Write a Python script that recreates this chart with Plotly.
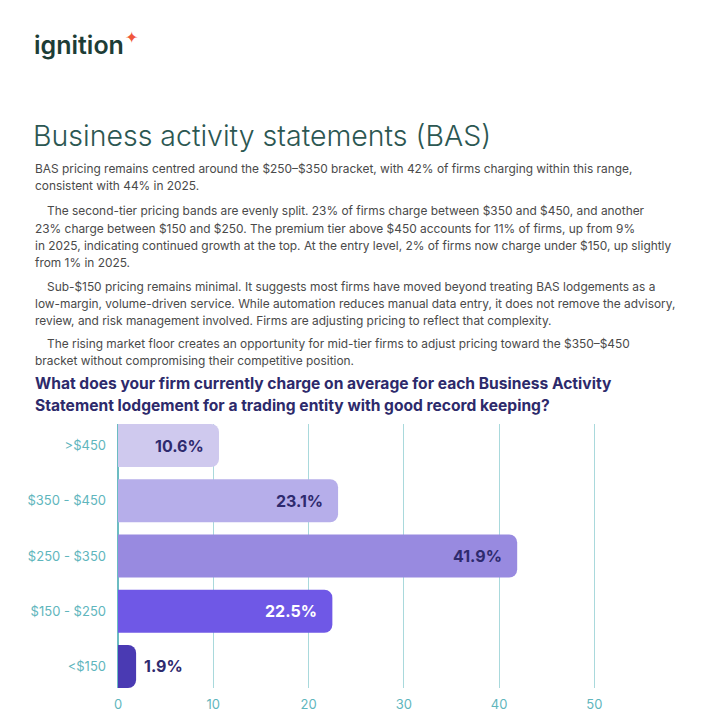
import plotly.graph_objects as go

# ---- data ----
categories = ['<$150', '$150 - $250', '$250 - $350', '$350 - $450', '>$450']
values = [1.9, 22.5, 41.9, 23.1, 10.6]
bar_colors = ['#4a3ab3', '#6f58e6', '#988ae0', '#b6aeea', '#cfc9ee']
label_colors = ['#2e2a6e', '#ffffff', '#2e2a6e', '#2e2a6e', '#2e2a6e']
x_ticks = [0, 10, 20, 30, 40, 50]

heading = "Business activity statements (BAS)"
chart_title = ["What does your firm currently charge on average for each Business Activity",
               "Statement lodgement for a trading entity with good record keeping?"]
body_lines = [
    (33, 168, "BAS pricing remains centred around the $250–$350 bracket, with 42% of firms charging within this range,"),
    (33, 186, "consistent with 44% in 2025."),
    (45, 211, "The second-tier pricing bands are evenly split. 23% of firms charge between $350 and $450, and another"),
    (33, 228, "23% charge between $150 and $250. The premium tier above $450 accounts for 11% of firms, up from 9%"),
    (33, 245, "in 2025, indicating continued growth at the top. At the entry level, 2% of firms now charge under $150, up slightly"),
    (33, 262, "from 1% in 2025."),
    (45, 286, "Sub-$150 pricing remains minimal. It suggests most firms have moved beyond treating BAS lodgements as a"),
    (33, 303, "low-margin, volume-driven service. While automation reduces manual data entry, it does not remove the advisory,"),
    (33, 320, "review, and risk management involved. Firms are adjusting pricing to reflect that complexity."),
    (45, 343, "The rising market floor creates an opportunity for mid-tier firms to adjust pricing toward the $350–$450"),
    (33, 360, "bracket without compromising their competitive position."),
]

W, H = 709, 720
ML, MR, MT, MB = 118, 67, 424, 32
PW, PH = W - ML - MR, H - MT - MB


def px(x, y):
    return (x - ML) / PW, (H - MB - y) / PH


FONT = "Inter"
TEAL = "#5fb6bd"

fig = go.Figure()
fig.add_trace(go.Bar(
    y=categories, x=values, orientation='h',
    marker=dict(color=bar_colors, line=dict(width=0)),
    width=0.78, hoverinfo='skip',
))

annotations = []
# bar value labels
for c, v, col in zip(categories, values, label_colors):
    if v > 5:
        annotations.append(dict(x=v, y=c, xref='x', yref='y', text=f"{v}%", showarrow=False,
                                xanchor='right', xshift=-13,
                                font=dict(family=FONT, size=16, color=col, weight=700)))
    else:
        annotations.append(dict(x=v, y=c, xref='x', yref='y', text=f"{v}%", showarrow=False,
                                xanchor='left', xshift=6,
                                font=dict(family=FONT, size=16, color='#2e2a6e', weight=700)))

# logo
x0, y0 = px(32, 45)
annotations.append(dict(x=x0, y=y0, xref='paper', yref='paper', text="ignition", showarrow=False,
                        xanchor='left', yanchor='middle',
                        font=dict(family=FONT, size=25, color='#1d3d36', weight=600)))
x0, y0 = px(123, 37)
annotations.append(dict(x=x0, y=y0, xref='paper', yref='paper', text="✦", showarrow=False,
                        xanchor='left', yanchor='middle',
                        font=dict(family="DejaVu Sans", size=16, color='#f0563a')))
# heading
x0, y0 = px(31, 135)
annotations.append(dict(x=x0, y=y0, xref='paper', yref='paper', text=heading, showarrow=False,
                        xanchor='left', yanchor='middle',
                        font=dict(family=FONT, size=28.5, color='#2c5752', weight=300)))
# body
for bx, by, t in body_lines:
    x0, y0 = px(bx, by)
    annotations.append(dict(x=x0, y=y0, xref='paper', yref='paper', text=t, showarrow=False,
                            xanchor='left', yanchor='middle',
                            font=dict(family=FONT, size=11.9, color='#4a4a4a')))
# chart title
for i, t in enumerate(chart_title):
    x0, y0 = px(33, 383 + 22 * i)
    annotations.append(dict(x=x0, y=y0, xref='paper', yref='paper', text=t, showarrow=False,
                            xanchor='left', yanchor='middle',
                            font=dict(family=FONT, size=15.6, color='#2d2a6b', weight=700)))

fig.update_layout(
    width=W, height=H,
    margin=dict(l=ML, r=MR, t=MT, b=MB, pad=0, autoexpand=False),
    paper_bgcolor='white', plot_bgcolor='white',
    showlegend=False,
    barcornerradius=8,
    annotations=annotations,
    font=dict(family=FONT),
)
fig.update_xaxes(range=[0, 55], tickvals=x_ticks, showgrid=True, gridcolor='#a9d9dc', gridwidth=1,
                 zeroline=True, zerolinecolor='#6cbcc2', zerolinewidth=2,
                 tickfont=dict(family=FONT, size=13, color=TEAL), ticks='', ticklabelstandoff=7,
                 showline=False, fixedrange=True, automargin=False)
fig.update_yaxes(categoryorder='array', categoryarray=categories, range=[-0.39, 4.39],
                 showgrid=False, zeroline=False, showline=False, ticks='',
                 tickfont=dict(family=FONT, size=13, color=TEAL), ticklabelstandoff=11,
                 fixedrange=True, automargin=False)

fig.write_html("out.html")
